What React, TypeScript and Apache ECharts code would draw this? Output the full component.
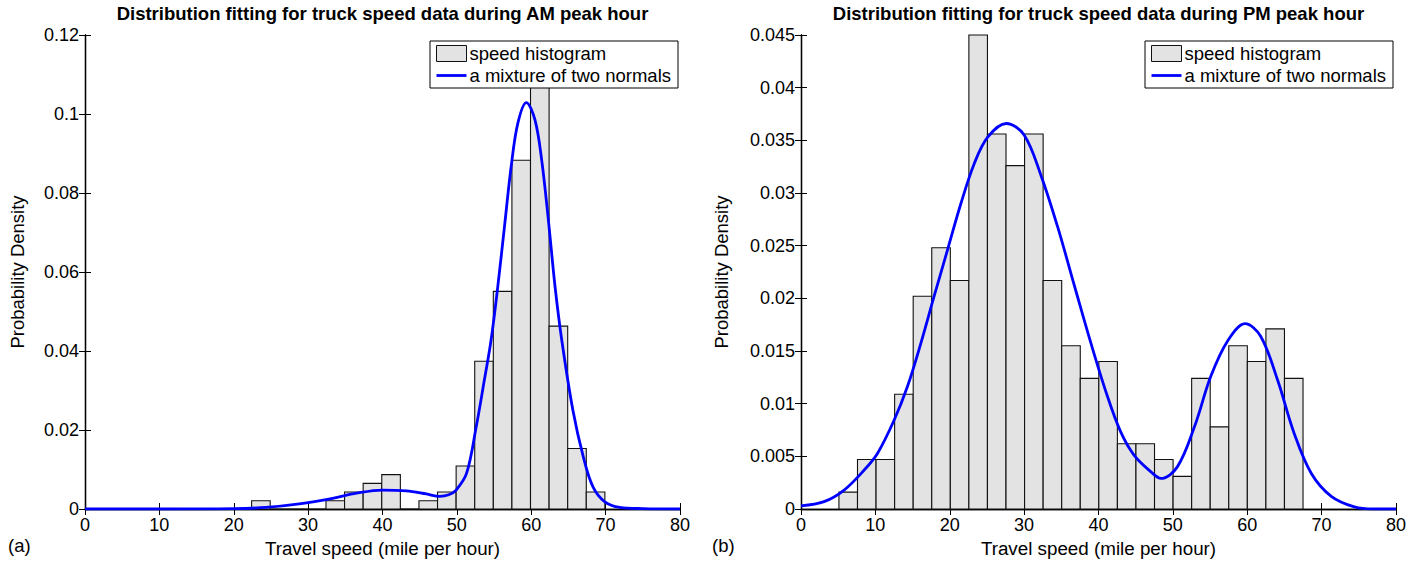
import React, { useEffect, useRef } from "react";
import * as echarts from "echarts";

// ---------- data ----------
// AM histogram: bins of width 2.5 starting at 22.4 mph
const amBinStart = 22.4;
const amBinWidth = 2.5;
const amDensity = [
  0.0021, 0, 0, 0, 0.0021, 0.0043, 0.0065, 0.0087, 0, 0.0021, 0.0043, 0.0109,
  0.0374, 0.0551, 0.0883, 0.115, 0.0463, 0.0153, 0.0043,
];
// PM histogram: bins of width 2.496 starting at 5.1 mph
const pmBinStart = 5.1;
const pmBinWidth = 2.496;
const pmDensity = [
  0.0016, 0.0047, 0.0047, 0.0109, 0.0202, 0.0248, 0.0217, 0.045, 0.0356,
  0.0326, 0.0356, 0.0217, 0.0155, 0.0124, 0.014, 0.0062, 0.0062, 0.0047,
  0.0031, 0.0124, 0.0078, 0.0155, 0.014, 0.0171, 0.0124,
];
// fitted mixture curves: [speed, density]
const amCurve: [number, number][] = [
  [0, 0], [10, 0], [20, 0.0001], [24.3, 0.0004], [28.8, 0.0013], [33.3, 0.0027],
  [36.5, 0.004], [40, 0.0048], [43.2, 0.0046], [45.9, 0.0038], [47.7, 0.0032],
  [48.9, 0.0036], [49.9, 0.0048], [51.3, 0.009], [52.6, 0.0208], [53.7, 0.0327],
  [54.6, 0.0428], [55.5, 0.0563], [56.4, 0.0715], [57.3, 0.0867], [58.2, 0.0977],
  [59.35, 0.1029], [60.5, 0.0985], [61.4, 0.0884], [62.3, 0.0732], [63.2, 0.0563],
  [64.1, 0.0428], [65.6, 0.025], [67.0, 0.0132], [68.3, 0.0056], [69.9, 0.0018],
  [71.9, 0.0004], [75, 0.0001], [80, 0],
];
const pmCurve: [number, number][] = [
  [0, 0.0003], [3.1, 0.0007], [5.8, 0.0018], [8.5, 0.0037], [10.3, 0.0053],
  [12.5, 0.0084], [14.3, 0.0116], [16.1, 0.0157], [17.9, 0.0202], [19.7, 0.0246],
  [21.5, 0.029], [23.3, 0.0328], [25.1, 0.0353], [27.6, 0.0366], [30.0, 0.0355],
  [32.3, 0.0316], [34.5, 0.0268], [36.8, 0.0211], [39.0, 0.0157], [41.2, 0.0107],
  [43.0, 0.0073], [44.8, 0.0051], [47.1, 0.0035], [48.4, 0.0029], [50.6, 0.004],
  [52.9, 0.0078], [55.1, 0.0126], [57.4, 0.016], [59.7, 0.0176], [61.8, 0.0164],
  [64.1, 0.0122], [66.3, 0.0072], [68.6, 0.0034], [71.3, 0.0012], [74.4, 0.0002],
  [77, 0], [80, 0],
];
const titles = [
  "Distribution fitting for truck speed data during AM peak hour",
  "Distribution fitting for truck speed data during PM peak hour",
];
const panelTags = ["(a)", "(b)"];
const xName = "Travel speed (mile per hour)";
const yName = "Probability Density";
const histName = "speed histogram";
const curveName = "a mixture of two normals";
const yMax = [0.12, 0.045];
const yStep = [0.02, 0.005];

const FONT = "'Liberation Sans', Arial, Helvetica, sans-serif";

function bins(start: number, width: number, vals: number[]) {
  return vals.map((v, i) => [start + i * width, start + (i + 1) * width, v]);
}

const histRender = (params: any, api: any) => {
  const p0 = api.coord([api.value(0), api.value(2)]);
  const p1 = api.coord([api.value(1), 0]);
  return {
    type: "rect",
    shape: { x: p0[0], y: p0[1], width: p1[0] - p0[0], height: p1[1] - p0[1] },
    style: { fill: "#e3e3e3", stroke: "#111", lineWidth: 1.1 },
  };
};

export default function App() {
  const ref = useRef<HTMLDivElement>(null);
  useEffect(() => {
    if (!ref.current) return;
    const chart = echarts.init(ref.current, undefined, { renderer: "svg" });
    const grids = [
      { left: 85, top: 35, width: 595, height: 474 },
      { left: 801, top: 35, width: 595, height: 474 },
    ];
    const axisLine = { show: true, lineStyle: { color: "#000", width: 1.3 } };
    const axisTick = { show: true, inside: true, length: 6, lineStyle: { color: "#000", width: 1 } };
    const label = { color: "#000", fontSize: 18, fontFamily: FONT };
    const xAxis: any[] = [];
    const yAxis: any[] = [];
    [0, 1].forEach((g) => {
      xAxis.push({
        type: "value", gridIndex: g, min: 0, max: 80, interval: 10, position: "bottom",
        axisLine, axisTick, splitLine: { show: false },
        axisLabel: { ...label, margin: 7 },
        name: xName, nameLocation: "middle", nameGap: 30,
        nameTextStyle: { color: "#000", fontSize: 18.8, fontFamily: FONT },
      });
      xAxis.push({
        type: "value", gridIndex: g, min: 0, max: 80, interval: 10, position: "top",
        axisLine, axisTick, splitLine: { show: false }, axisLabel: { show: false },
      });
      yAxis.push({
        type: "value", gridIndex: g, min: 0, max: yMax[g], interval: yStep[g], position: "left",
        axisLine, axisTick, splitLine: { show: false },
        axisLabel: { ...label, margin: 6 },
        name: yName, nameLocation: "middle", nameGap: g === 0 ? 58 : 70, nameRotate: 90,
        nameTextStyle: { color: "#000", fontSize: 18.5, fontFamily: FONT },
      });
      yAxis.push({
        type: "value", gridIndex: g, min: 0, max: yMax[g], interval: yStep[g], position: "right",
        axisLine, axisTick, splitLine: { show: false }, axisLabel: { show: false },
      });
    });
    const hists = [bins(amBinStart, amBinWidth, amDensity), bins(pmBinStart, pmBinWidth, pmDensity)];
    const curves = [amCurve, pmCurve];
    const series: any[] = [];
    [0, 1].forEach((g) => {
      series.push({
        type: "custom", name: histName, xAxisIndex: g * 2, yAxisIndex: g * 2,
        renderItem: histRender, data: hists[g], encode: { x: [0, 1], y: 2 },
        itemStyle: { color: "#e3e3e3", borderColor: "#111", borderWidth: 1 }, z: 2,
      });
      series.push({
        type: "line", name: curveName, xAxisIndex: g * 2, yAxisIndex: g * 2,
        data: curves[g], smooth: 0.35, symbol: "none", showSymbol: false,
        lineStyle: { color: "#0000ff", width: 2.8 }, itemStyle: { color: "#0000ff" }, z: 3,
      });
    });
    const legendData = [
      { name: histName, icon: "rect", itemStyle: { color: "#e3e3e3", borderColor: "#111", borderWidth: 1 } },
      {
        name: curveName,
        icon: "path://M0,0 M30,16 M0,6.6 L30,6.6 L30,9.4 L0,9.4 Z",
        itemStyle: { color: "#0000ff", borderWidth: 0 },
      },
    ];
    const legend = [430, 1145].map((l) => ({
      left: l, top: 41, orient: "vertical", data: legendData,
      itemWidth: 30, itemHeight: 16, itemGap: 3, padding: [3, 7, 3, 6],
      backgroundColor: "#fff", borderColor: "#000", borderWidth: 1, selectedMode: false,
      textStyle: { color: "#000", fontSize: 18.5, fontFamily: FONT, padding: [0, 0, 0, -2] },
      z: 10,
    }));
    const graphic: any[] = [];
    [0, 1].forEach((g) => {
      graphic.push({
        type: "text", x: grids[g].left + grids[g].width / 2, y: 4,
        style: { text: titles[g], fontSize: 18.5, fontWeight: "bold", fontFamily: FONT, fill: "#000", textAlign: "center", textVerticalAlign: "top" },
      });
      graphic.push({
        type: "text", x: g === 0 ? 8 : 712, y: 536,
        style: { text: panelTags[g], fontSize: 18.5, fontFamily: FONT, fill: "#000", textAlign: "left", textVerticalAlign: "top" },
      });
    });
    chart.setOption({
      animation: false,
      backgroundColor: "#fff",
      grid: grids.map((g) => ({ ...g, containLabel: false, outerBoundsMode: "none" })),
      xAxis, yAxis, series, legend, graphic,
    });
    return () => chart.dispose();
  }, []);
  return (
    <div ref={ref} style={{ position: "fixed", left: 0, top: 0, width: 1421, height: 562, background: "#fff" }} />
  );
}
